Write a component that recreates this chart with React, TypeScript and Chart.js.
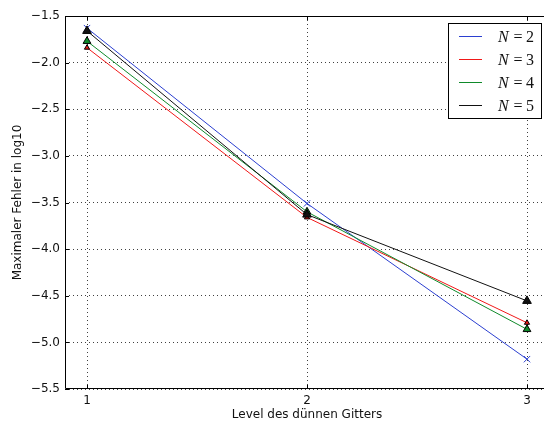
import React, { useEffect, useRef } from "react";
import { Chart, registerables } from "chart.js";

Chart.register(...registerables);

const levels = [1, 2, 3];
const seriesLabels = ["2", "3", "4", "5"];
const errN2 = [-1.63, -3.51, -5.18];
const errN3 = [-1.84, -3.66, -4.79];
const errN4 = [-1.77, -3.6, -4.86];
const errN5 = [-1.66, -3.63, -4.555];
const yTicks = [-5.5, -5.0, -4.5, -4.0, -3.5, -3.0, -2.5, -2.0, -1.5];
const xTicks = [1, 2, 3];

const colors = ["#2b3fd0", "#f01818", "#0f8a2a", "#111111"];

const fmt = (v: number) => {
  const s = Math.abs(v).toFixed(1);
  return v < 0 ? "\u2212" + s : s;
};

const framePlugin = {
  id: "frame",
  beforeDatasetsDraw(chart: any) {
    const { ctx, chartArea: a, scales } = chart;
    ctx.save();
    ctx.strokeStyle = "#000";
    ctx.lineWidth = 1;
    ctx.beginPath();
    ctx.moveTo(a.left + 0.5, a.top + 0.5);
    ctx.lineTo(a.right - 0.5, a.top + 0.5);
    ctx.lineTo(a.right - 0.5, a.bottom - 0.5);
    ctx.lineTo(a.left + 0.5, a.bottom - 0.5);
    ctx.closePath();
    ctx.stroke();
    const tl = 4;
    ctx.beginPath();
    for (const v of xTicks) {
      const x = Math.round(scales.x.getPixelForValue(v)) + 0.5;
      ctx.moveTo(x, a.bottom);
      ctx.lineTo(x, a.bottom - tl);
      ctx.moveTo(x, a.top);
      ctx.lineTo(x, a.top + tl);
    }
    for (const v of yTicks) {
      const y = Math.round(scales.y.getPixelForValue(v)) + 0.5;
      ctx.moveTo(a.left, y);
      ctx.lineTo(a.left + tl, y);
      ctx.moveTo(a.right, y);
      ctx.lineTo(a.right - tl, y);
    }
    ctx.stroke();
    ctx.restore();
  },
  afterDraw(chart: any) {
    const { ctx, chartArea: a } = chart;
    const right = a.right - 7;
    const top = a.top + 7;
    const w = 94;
    const h = 96;
    const left = right - w;
    ctx.save();
    ctx.fillStyle = "#fff";
    ctx.fillRect(left, top, w, h);
    ctx.strokeStyle = "#000";
    ctx.lineWidth = 1;
    ctx.strokeRect(left + 0.5, top + 0.5, w - 1, h - 1);
    seriesLabels.forEach((lab, i) => {
      const y = top + 13 + i * 23;
      ctx.strokeStyle = colors[i];
      ctx.lineWidth = 1;
      ctx.beginPath();
      ctx.moveTo(left + 11, y + 0.5);
      ctx.lineTo(left + 34, y + 0.5);
      ctx.stroke();
      ctx.fillStyle = "#111";
      ctx.textBaseline = "alphabetic";
      ctx.textAlign = "left";
      ctx.font = 'italic 16px "Liberation Serif"';
      ctx.fillText("N", left + 50, y + 6);
      ctx.font = '16px "Liberation Serif"';
      ctx.textAlign = "center";
      ctx.fillText("=", left + 70, y + 6);
      ctx.textAlign = "right";
      ctx.fillText(lab, left + 86, y + 6);
    });
    ctx.restore();
  },
};

export default function App() {
  const ref = useRef<HTMLCanvasElement | null>(null);
  useEffect(() => {
    if (!ref.current) return;
    const mk = (data: number[], i: number, style: string, r: number, order: number) => ({
      label: "N=" + seriesLabels[i],
      data: levels.map((x, k) => ({ x, y: data[k] })),
      borderColor: colors[i],
      backgroundColor: colors[i],
      borderWidth: 1,
      pointStyle: style,
      pointRadius: r,
      pointBorderColor: style === "triangle" ? "#000" : colors[i],
      pointBorderWidth: 1,
      order,
    });
    const chart = new Chart(ref.current, {
      type: "line",
      data: {
        datasets: [
          mk(errN2, 0, "crossRot", 4.5, 3),
          mk(errN3, 1, "triangle", 3, 2),
          mk(errN4, 2, "triangle", 4.5, 1),
          mk(errN5, 3, "triangle", 5, 0),
        ] as any,
      },
      options: {
        animation: false,
        responsive: false,
        devicePixelRatio: 1,
        layout: { padding: { top: 16, right: 11, left: 0, bottom: 0 } },
        plugins: { legend: { display: false }, tooltip: { enabled: false } },
        scales: {
          x: {
            type: "linear",
            min: 0.9,
            max: 3.1,
            afterBuildTicks: (s: any) => {
              s.ticks = xTicks.map((v) => ({ value: v }));
            },
            afterFit: (s: any) => {
              s.height = 39;
            },
            grid: { color: "rgba(0,0,0,0.75)", lineWidth: 1, drawTicks: false },
            border: { display: false, dash: [1, 3] },
            ticks: {
              color: "#111",
              padding: 5,
              font: { family: '"DejaVu Sans"', size: 12 },
              callback: (v: any) => String(v),
            },
            title: {
              display: true,
              text: "Level des dünnen Gitters",
              color: "#111",
              font: { family: '"DejaVu Sans"', size: 12 },
              padding: { top: 0, bottom: 6 },
            },
          },
          y: {
            type: "linear",
            min: -5.5,
            max: -1.5,
            afterBuildTicks: (s: any) => {
              s.ticks = yTicks.map((v) => ({ value: v }));
            },
            afterFit: (s: any) => {
              s.width = 65;
            },
            grid: { color: "rgba(0,0,0,0.75)", lineWidth: 1, drawTicks: false },
            border: { display: false, dash: [1, 3] },
            ticks: {
              color: "#111",
              padding: 5,
              font: { family: '"DejaVu Sans"', size: 12 },
              callback: (v: any) => fmt(Number(v)),
            },
            title: {
              display: true,
              text: "Maximaler Fehler in log10",
              color: "#111",
              font: { family: '"DejaVu Sans"', size: 12 },
              padding: { top: 11, bottom: 0 },
            },
          },
        },
      },
      plugins: [framePlugin],
    });
    return () => chart.destroy();
  }, []);
  return (
    <div
      style={{
        position: "fixed",
        left: 0,
        top: 0,
        width: 544,
        height: 428,
        overflow: "hidden",
        background: "#fff",
      }}
    >
      <canvas ref={ref} width={560} height={428} style={{ display: "block" }} />
    </div>
  );
}
